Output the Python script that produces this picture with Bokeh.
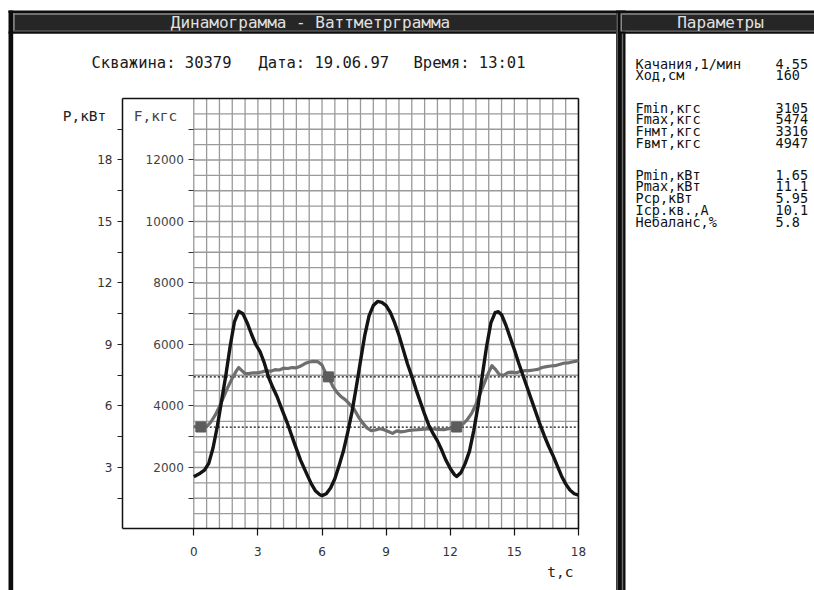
from bokeh.plotting import figure
from bokeh.models import (Range1d, LinearAxis, FixedTicker, BoxAnnotation, Label,
                          LabelSet, ColumnDataSource)
from bokeh.core.properties import value
from bokeh.embed import file_html
from bokeh.resources import INLINE

# ---------------- data ----------------
title_left = "Динамограмма - Ваттметрграмма"
title_right = "Параметры"
header_parts = ["Скважина: 30379", "Дата: 19.06.97", "Время: 13:01"]
p_label = "P,кВт"
f_label = "F,кгс"
t_label = "t,c"

param_names = ["Качания,1/мин", "Ход,см",
               "Fmin,кгс", "Fmax,кгс", "Fнмт,кгс", "Fвмт,кгс",
               "Pmin,кВт", "Pmax,кВт", "Pср,кВт", "Iср.кв.,А", "Небаланс,%"]
param_values = ["4.55", "160", "3105", "5474", "3316", "4947",
                "1.65", "11.1", "5.95", "10.1", "5.8"]

# power curve (black), kW
t_p = [0.0, 0.3, 0.5, 0.7, 0.9, 1.1, 1.3, 1.5, 1.7, 1.9, 2.1, 2.3, 2.5, 2.7, 2.9,
       3.1, 3.3, 3.5, 3.7, 3.9, 4.1, 4.4, 4.7, 5.0, 5.3, 5.5, 5.7, 5.9, 6.0, 6.2,
       6.4, 6.6, 6.8, 7.0, 7.2, 7.4, 7.6, 7.8, 8.0, 8.2, 8.4, 8.6, 8.8, 9.0, 9.2,
       9.4, 9.6, 9.8, 10.0, 10.2, 10.4, 10.6, 10.8, 11.0, 11.2, 11.4, 11.6, 11.8,
       12.0, 12.2, 12.3, 12.5, 12.7, 12.9, 13.1, 13.3, 13.5, 13.7, 13.9, 14.1,
       14.25, 14.4, 14.6, 14.8, 15.0, 15.2, 15.4, 15.6, 15.8, 16.0, 16.2, 16.4,
       16.6, 16.8, 17.0, 17.2, 17.4, 17.6, 17.8, 18.0]
p_kw = [2.55, 2.72, 2.87, 3.2, 3.95, 5.0, 6.25, 7.5, 8.9, 10.1, 10.62, 10.5, 10.05,
        9.5, 9.0, 8.65, 8.1, 7.4, 6.9, 6.45, 5.9, 5.1, 4.2, 3.35, 2.65, 2.2, 1.85,
        1.67, 1.63, 1.72, 2.0, 2.45, 3.1, 3.8, 4.7, 5.7, 6.9, 8.2, 9.45, 10.4, 10.9,
        11.1, 11.05, 10.9, 10.55, 10.05, 9.45, 8.75, 8.05, 7.45, 6.8, 6.2, 5.6,
        5.05, 4.65, 4.3, 3.85, 3.35, 2.95, 2.65, 2.56, 2.75, 3.2, 3.8, 4.8, 6.0,
        7.5, 8.9, 10.05, 10.55, 10.6, 10.45, 9.95, 9.35, 8.75, 8.1, 7.5, 6.9, 6.3,
        5.7, 5.1, 4.55, 4.05, 3.6, 3.1, 2.6, 2.2, 1.9, 1.72, 1.65]

# load curve (gray), kgf
t_f = [0.0, 0.3, 0.6, 0.8, 1.0, 1.2, 1.4, 1.6, 1.8, 2.0, 2.1, 2.25, 2.4, 2.6, 2.8,
       3.0, 3.2, 3.4, 3.6, 3.8, 4.0, 4.2, 4.4, 4.6, 4.8, 5.0, 5.2, 5.4, 5.6, 5.8,
       6.0, 6.15, 6.3, 6.5, 6.7, 6.9, 7.1, 7.3, 7.5, 7.7, 7.9, 8.1, 8.3, 8.5, 8.7,
       8.9, 9.1, 9.3, 9.5, 9.7, 9.9, 10.1, 10.3, 10.5, 10.8, 11.1, 11.4, 11.7,
       12.0, 12.3, 12.6, 12.8, 13.0, 13.2, 13.4, 13.6, 13.8, 13.95, 14.1, 14.3,
       14.5, 14.7, 14.9, 15.1, 15.3, 15.5, 15.7, 15.9, 16.1, 16.3, 16.5, 16.7,
       16.9, 17.1, 17.3, 17.5, 17.7, 17.9, 18.0]
f_kgf = [3330, 3316, 3330, 3480, 3700, 3980, 4300, 4620, 4900, 5150, 5250, 5150,
         5050, 5060, 5080, 5080, 5110, 5150, 5130, 5180, 5170, 5230, 5220, 5250,
         5240, 5300, 5380, 5430, 5450, 5440, 5330, 5100, 4947, 4650, 4440, 4300,
         4200, 4050, 3900, 3650, 3450, 3290, 3200, 3220, 3260, 3230, 3170, 3110,
         3190, 3160, 3180, 3210, 3220, 3230, 3250, 3260, 3240, 3230, 3270, 3316,
         3420, 3560, 3760, 4050, 4400, 4750, 5100, 5310, 5200, 5020, 5000, 5090,
         5100, 5080, 5130, 5150, 5150, 5170, 5190, 5250, 5280, 5300, 5310, 5350,
         5390, 5400, 5430, 5460, 5474]

marker_t = [0.33, 6.3, 12.3]
marker_f = [3316, 4947, 3316]
f_nmt = 3316
f_vmt = 4947

t_ticks = [0, 3, 6, 9, 12, 15, 18]
p_ticks = [3, 6, 9, 12, 15, 18]
p_minor = [1.5, 4.5, 7.5, 10.5, 13.5, 16.5, 19.5]
f_ticks = [2000, 4000, 6000, 8000, 10000, 12000]
f_minor = [1000, 3000, 5000, 7000, 9000, 11000, 13000]
grid_t = [round(0.6 * i, 2) for i in range(31)]
grid_f = [500 * i for i in range(1, 28)]
t_max = 18
f_max = 14000
p_max = 21

# ---------------- layout constants ----------------
W, H = 814, 590
T_AXIS = -3.336             # time position of the P axis (left edge of chart box)
X_RANGE = (-9.044, 29.043)  # time span covered by the whole canvas
P_RANGE = (-3.0, 25.78)     # kW span covered by the whole canvas
F_PER_P = 2000.0 / 3.0
MONO = "DejaVu Sans Mono"
SANS = "DejaVu Sans"

p = figure(width=W, height=H, output_backend="svg", toolbar_location=None,
           x_range=Range1d(*X_RANGE), y_range=Range1d(*P_RANGE),
           min_border=0, min_border_left=0, min_border_right=0,
           min_border_top=0, min_border_bottom=0,
           x_axis_location=None, y_axis_location=None)
p.extra_y_ranges = {"F": Range1d(P_RANGE[0] * F_PER_P, P_RANGE[1] * F_PER_P),
                    "py": Range1d(H, 0)}
p.extra_x_ranges = {"px": Range1d(0, W)}
p.grid.visible = False
p.outline_line_color = None
p.background_fill_color = "white"
p.border_fill_color = "white"

# x axis at P = 0
xa = LinearAxis(fixed_location=0, bounds=(T_AXIS, t_max),
                ticker=FixedTicker(ticks=t_ticks, minor_ticks=[]))
xa.axis_line_color = "#111111"
xa.axis_line_width = 1.5
xa.major_tick_out = 7
xa.major_tick_in = 0
xa.major_tick_line_color = "#111111"
xa.major_tick_line_width = 1.2
xa.minor_tick_line_color = None
xa.major_label_standoff = 11
xa.major_label_text_font = SANS
xa.major_label_text_font_size = "12px"
xa.major_label_text_color = "#333333"
p.add_layout(xa, "below")

# P axis, left edge of the chart box
ax_p = LinearAxis(fixed_location=T_AXIS, bounds=(0, p_max),
                  ticker=FixedTicker(ticks=p_ticks, minor_ticks=p_minor))
ax_p.axis_line_color = "#111111"
ax_p.axis_line_width = 1.5
ax_p.major_tick_out = 5
ax_p.major_tick_in = 0
ax_p.minor_tick_out = 5
ax_p.minor_tick_in = 0
ax_p.major_tick_line_color = "#222222"
ax_p.minor_tick_line_color = "#222222"
ax_p.major_label_standoff = 5
ax_p.major_label_text_font = SANS
ax_p.major_label_text_font_size = "12px"
ax_p.major_label_text_color = "#333333"
p.add_layout(ax_p, "left")

# F axis at t = 0
ax_f = LinearAxis(y_range_name="F", fixed_location=0, bounds=(0, f_max),
                  ticker=FixedTicker(ticks=f_ticks, minor_ticks=f_minor))
ax_f.axis_line_color = None
ax_f.major_tick_out = 5
ax_f.major_tick_in = 0
ax_f.minor_tick_out = 5
ax_f.minor_tick_in = 0
ax_f.major_tick_line_color = "#333333"
ax_f.minor_tick_line_color = "#333333"
ax_f.major_label_standoff = 5
ax_f.major_label_text_font = SANS
ax_f.major_label_text_font_size = "12px"
ax_f.major_label_text_color = "#444444"
p.add_layout(ax_f, "left")

# grid (only over the time span 0..18)
grid_col = "#9a9a9a"
p.segment(x0=grid_t, y0=[0] * len(grid_t), x1=grid_t, y1=[f_max] * len(grid_t),
          y_range_name="F", line_color=grid_col, line_width=1.3)
p.segment(x0=[0] * len(grid_f), y0=grid_f, x1=[t_max] * len(grid_f), y1=grid_f,
          y_range_name="F", line_color=grid_col, line_width=1.3)

# chart box: top and right edges
p.segment(x0=[T_AXIS, t_max], y0=[p_max, 0], x1=[t_max, t_max], y1=[p_max, p_max],
          line_color="#111111", line_width=1.5)

# dotted reference lines
p.segment(x0=[0, 0], y0=[f_nmt, f_vmt], x1=[t_max, t_max], y1=[f_nmt, f_vmt],
          y_range_name="F", line_color="#111111", line_width=1.3, line_dash="2 2")

# load curve
p.line(t_f, f_kgf, y_range_name="F", line_color="#6e6e6e", line_width=3.2,
       line_join="round")
p.scatter(marker_t, marker_f, y_range_name="F", marker="square", size=10,
          fill_color="#5c5c5c", line_color="#5c5c5c")
# power curve
p.line(t_p, p_kw, line_color="#141414", line_width=3.4, line_join="round")


# ---------------- window decoration (page pixel coordinates) ----------------
def box(l, r, t, b, color):
    p.add_layout(BoxAnnotation(left=l, right=r, top=t, bottom=b,
                               x_range_name="px", y_range_name="py",
                               fill_color=color, fill_alpha=1.0,
                               line_color=None, level="overlay"))


BLACK = "#0c0c0c"
BAR = "#262626"
BEVEL = "#8a8a8a"
# outer left border and top line
box(8, 12.7, 10, H, BLACK)
box(8, W, 10, 12.5, BLACK)
# left title bar
box(12.7, 616, 12.5, 31, BAR)
box(12.7, 616, 12.8, 14.2, BEVEL)
box(12.7, 14.2, 12.8, 31, BEVEL)
box(12.7, 616, 29.8, 31, "#5a5a5a")
box(8, W, 31, 33.3, BLACK)
# separator between panels
box(615.5, 625, 10, H, BLACK)
box(616, 617.3, 12.5, H, "#6e6e6e")
box(620, 621.6, 12.8, 31, BEVEL)
box(621.3, 622.7, 33.3, H, "#6e6e6e")
# right title bar
box(621.6, W, 12.5, 31, BAR)
box(621.6, W, 12.8, 14.2, BEVEL)
box(621.6, W, 29.8, 31, "#5a5a5a")


def label(x, y, text, size, color, align="center", font=MONO):
    p.add_layout(Label(x=x, y=y, text=text, x_range_name="px", y_range_name="py",
                       text_align=align, text_baseline="middle",
                       text_font=font, text_font_size=size,
                       text_color=color, level="overlay"))


label(310, 22, title_left, "16px", "#e0e0e0")
label(720, 22, title_right, "16px", "#e0e0e0")
for hx, part in zip([91, 258, 413], header_parts):
    label(hx, 62, part, "15.5px", "#1a1a1a", align="left")
label(84, 115, p_label, "14.5px", "#222222")
label(155, 115, f_label, "14.5px", "#444444")
label(573, 571, t_label, "14.5px", "#222222", align="right")

row_y = [63.3, 74.8, 107, 118.9, 130.7, 142.5, 174, 185.9, 197.7, 209.3, 221]
src = ColumnDataSource(dict(y=row_y, name=param_names, val=param_values,
                            xn=[635] * len(row_y), xv=[775] * len(row_y)))
for xcol, tcol in (("xn", "name"), ("xv", "val")):
    p.add_layout(LabelSet(x=xcol, y="y", text=tcol, source=src,
                          x_range_name="px", y_range_name="py",
                          text_align="left", text_baseline="middle",
                          text_font=value(MONO), text_font_size=value("13.5px"),
                          text_color="#111111", level="overlay"))

open("out.html", "w").write(file_html(p, INLINE))
